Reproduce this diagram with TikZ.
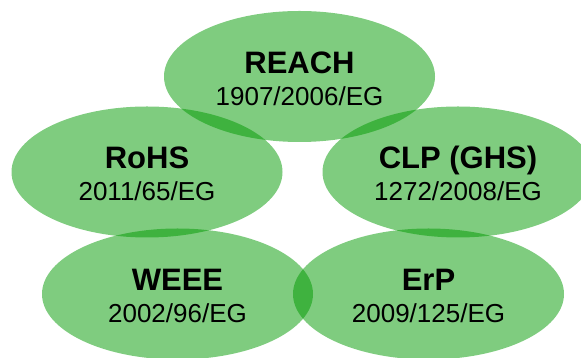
\documentclass[tikz,border=0pt]{standalone}
\usepackage{fontspec}
\setmainfont{Liberation Sans}
\usetikzlibrary{shapes.geometric}

\begin{document}
\begin{tikzpicture}[x=1pt, y=1pt,
			blob/.style={ellipse, fill={rgb,255:red,0;green,153;blue,0}, fill opacity=0.5, minimum width=271pt, minimum height=131pt, inner sep=0pt},
			title/.style={anchor=base, font=\fontsize{31}{31}\selectfont\bfseries},
			act/.style={anchor=base, font=\fontsize{26}{26}\selectfont}]
			\useasboundingbox (0,0) rectangle (581,358);
			\node[blob] (reach) at (299.5,281.5) {};
			\node[blob] (rohs) at (147,186) {};
			\node[blob] (clp) at (458,186) {};
			\node[blob] (weee) at (177.5,64) {};
			\node[blob] (erp) at (428.5,64) {};
			\foreach \n/\t/\a in {reach/REACH/1907\slash2006\slash EG, rohs/RoHS/2011\slash65\slash EG, clp/CLP (GHS)/1272\slash2008\slash EG, weee/WEEE/2002\slash96\slash EG, erp/ErP/2009\slash125\slash EG} {
				\node[title] (\n-t) at ([yshift=3pt]\n.center) {\t};
				\node[act] (\n-a) at ([yshift=-29pt]\n.center) {\a};
			}
			\end{tikzpicture}
\end{document}
